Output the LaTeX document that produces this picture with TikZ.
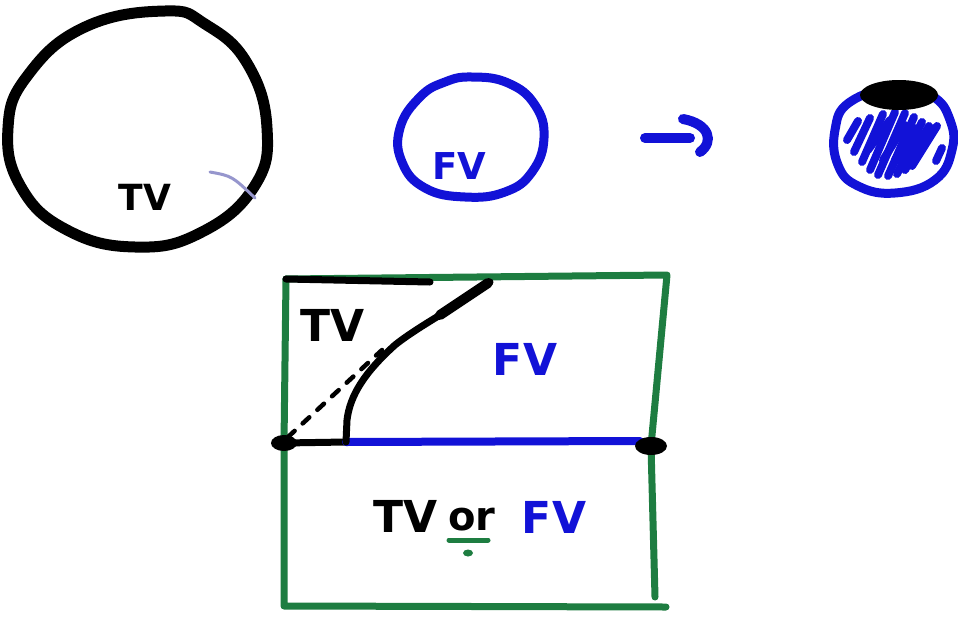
\documentclass[tikz,border=0pt]{standalone}
\usepackage{fontspec}
\newfontfamily\hand{DejaVu Sans}
\definecolor{penblue}{RGB}{18,18,215}
\definecolor{pengreen}{RGB}{30,125,65}
\definecolor{penlilac}{RGB}{150,150,205}
\tikzset{
  marker/.style={line width=#1, line cap=round, line join=round},
  marker/.default=8pt,
  word/.style={font=\hand\bfseries\fontsize{#1}{#1}\selectfont, inner sep=0pt},
}
\begin{document}
\begin{tikzpicture}[x=1pt,y=-1pt]
\useasboundingbox (0,0) rectangle (958,616);
% big black circle
\draw[marker=11pt] plot[smooth cycle, tension=0.75] coordinates
  {(165,11) (205,24) (247,63) (267,128) (254,187) (200,233) (135,247)
   (67,230) (21,187) (8,128) (28,75) (85,27)};
\draw[penlilac, line width=3pt, line cap=round] (210,172) .. controls (232,176) .. (255,198);
\node[word=36] (tv1) at (145,197) {TV};
% blue circle
\draw[penblue, marker=9pt] plot[smooth cycle, tension=0.75] coordinates
  {(472,77) (508,83) (535,105) (544,138) (532,172) (505,192) (465,197)
   (425,188) (402,162) (400,128) (420,97) (445,82)};
\node[word=37, text=penblue] (fv1) at (459,166) {FV};
% arrow
\coordinate (a1) at (645,138);
\coordinate (a2) at (690,138);
\draw[penblue, marker=10pt] (a1) -- (a2);
\draw[penblue, marker=10pt] (683,119) .. controls (710,124) and (714,142) .. (700,152);
% right ball
\draw[penblue, marker=9pt] plot[smooth cycle, tension=0.75] coordinates
  {(895,88) (932,96) (950,120) (952,150) (935,180) (895,193) (858,186)
   (838,165) (835,130) (850,102)};
\foreach \a/\b in {{(847,140)}/{(858,121)}, {(854,152)}/{(870,118)}, {(862,162)}/{(883,114)},
  {(870,170)}/{(895,112)}, {(878,175)}/{(905,113)}, {(888,176)}/{(914,117)},
  {(897,174)}/{(922,122)}, {(905,170)}/{(929,126)}, {(912,166)}/{(937,126)}, {(936,161)}/{(942,148)},
  {(868,150)}/{(890,120)}, {(883,160)}/{(905,125)}, {(895,160)}/{(915,128)}}
  \draw[penblue, marker=8pt] \a -- \b;
\fill (899,95) ellipse [x radius=39, y radius=15];
% rectangle
\coordinate (tl) at (286,279);
\coordinate (tr) at (667,275);
\coordinate (ml) at (284,443);
\coordinate (mr) at (651,446);
\coordinate (bl) at (284,606);
\coordinate (br) at (666,607);
\draw[pengreen, marker=7pt] (tl) -- (tr) -- (mr);
\draw[pengreen, marker=7pt] (tl) -- (ml) -- (bl) -- (br);
\draw[pengreen, marker=7pt] (mr) -- (655,597);
\draw[marker=7pt] (tl) -- (430,282);
\coordinate (c0) at (346,442);
\draw[marker=7pt] (ml) -- (c0);
\draw[penblue, marker=8pt] (c0) -- (640,441);
\fill (ml) ellipse [x radius=13, y radius=8];
\fill (mr) ellipse [x radius=16, y radius=9];
% curve
\draw[marker=7pt] (c0) -- (347,420) .. controls (350,395) and (365,372) .. (395,345)
  .. controls (420,325) and (460,305) .. (490,282);
\draw[marker=10pt] (440,315) -- (488,283);
\draw[line width=4.5pt, dash pattern=on 9pt off 11pt, line cap=round] (288,437) -- (382,350);
% texts
\node[word=44] (tv2) at (333,325) {TV};
\node[word=44, text=penblue] (fv2) at (525,359) {FV};
\node[word=44] (tv3) at (406,516) {TV};
\node[word=40, anchor=base] (or) at (472,530) {or};
\draw[pengreen, marker=5pt] (449,540) -- (488,540);
\fill[pengreen] (468,553) ellipse [x radius=5, y radius=3.5];
\node[word=44, text=penblue] (fv3) at (554,517) {FV};
\end{tikzpicture}
\end{document}
